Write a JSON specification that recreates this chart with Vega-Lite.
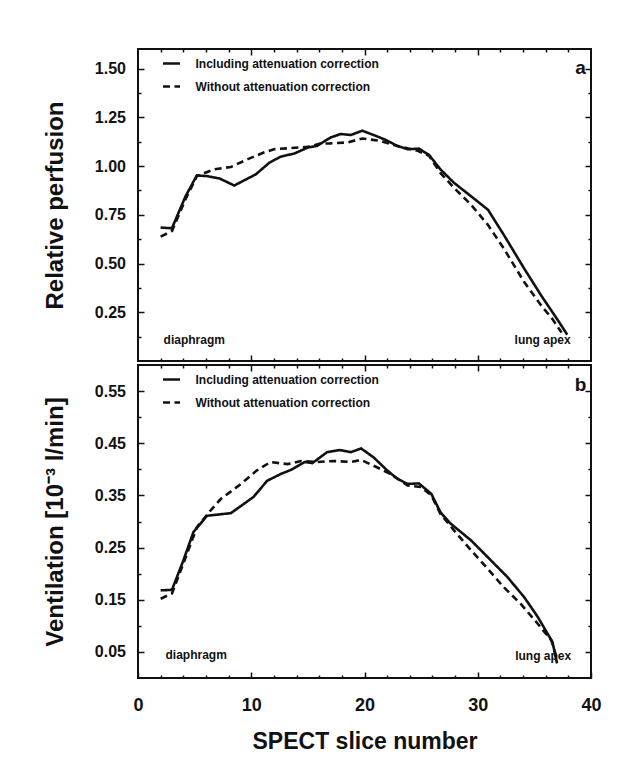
{
  "$schema": "https://vega.github.io/schema/vega-lite/v6.json",
  "background": "white",
  "padding": {"left": 42, "top": 47, "right": 10, "bottom": 5},
  "spacing": 0,
  "datasets": {
    "perf": [
      {"slice": 2, "value": 0.684, "series": "Including attenuation correction"},
      {"slice": 3, "value": 0.681, "series": "Including attenuation correction"},
      {"slice": 4.2, "value": 0.845, "series": "Including attenuation correction"},
      {"slice": 5.2, "value": 0.952, "series": "Including attenuation correction"},
      {"slice": 6.1, "value": 0.948, "series": "Including attenuation correction"},
      {"slice": 7.2, "value": 0.936, "series": "Including attenuation correction"},
      {"slice": 8.5, "value": 0.9, "series": "Including attenuation correction"},
      {"slice": 10.4, "value": 0.957, "series": "Including attenuation correction"},
      {"slice": 11.6, "value": 1.017, "series": "Including attenuation correction"},
      {"slice": 12.6, "value": 1.048, "series": "Including attenuation correction"},
      {"slice": 13.8, "value": 1.064, "series": "Including attenuation correction"},
      {"slice": 15.0, "value": 1.095, "series": "Including attenuation correction"},
      {"slice": 15.8, "value": 1.103, "series": "Including attenuation correction"},
      {"slice": 17.0, "value": 1.146, "series": "Including attenuation correction"},
      {"slice": 17.9, "value": 1.164, "series": "Including attenuation correction"},
      {"slice": 18.8, "value": 1.159, "series": "Including attenuation correction"},
      {"slice": 19.8, "value": 1.181, "series": "Including attenuation correction"},
      {"slice": 20.8, "value": 1.159, "series": "Including attenuation correction"},
      {"slice": 21.9, "value": 1.133, "series": "Including attenuation correction"},
      {"slice": 22.9, "value": 1.103, "series": "Including attenuation correction"},
      {"slice": 23.8, "value": 1.086, "series": "Including attenuation correction"},
      {"slice": 24.8, "value": 1.089, "series": "Including attenuation correction"},
      {"slice": 25.7, "value": 1.057, "series": "Including attenuation correction"},
      {"slice": 26.7, "value": 0.983, "series": "Including attenuation correction"},
      {"slice": 27.9, "value": 0.914, "series": "Including attenuation correction"},
      {"slice": 29.4, "value": 0.845, "series": "Including attenuation correction"},
      {"slice": 30.9, "value": 0.776, "series": "Including attenuation correction"},
      {"slice": 32.3, "value": 0.647, "series": "Including attenuation correction"},
      {"slice": 34.1, "value": 0.474, "series": "Including attenuation correction"},
      {"slice": 35.6, "value": 0.336, "series": "Including attenuation correction"},
      {"slice": 37.1, "value": 0.207, "series": "Including attenuation correction"},
      {"slice": 37.9, "value": 0.135, "series": "Including attenuation correction"},
      {"slice": 2, "value": 0.638, "series": "Without attenuation correction"},
      {"slice": 3, "value": 0.667, "series": "Without attenuation correction"},
      {"slice": 4.2, "value": 0.83, "series": "Without attenuation correction"},
      {"slice": 5.2, "value": 0.948, "series": "Without attenuation correction"},
      {"slice": 6.7, "value": 0.983, "series": "Without attenuation correction"},
      {"slice": 8.2, "value": 0.995, "series": "Without attenuation correction"},
      {"slice": 9.7, "value": 1.035, "series": "Without attenuation correction"},
      {"slice": 11.1, "value": 1.069, "series": "Without attenuation correction"},
      {"slice": 12.0, "value": 1.086, "series": "Without attenuation correction"},
      {"slice": 13.5, "value": 1.092, "series": "Without attenuation correction"},
      {"slice": 15.0, "value": 1.098, "series": "Without attenuation correction"},
      {"slice": 16.1, "value": 1.115, "series": "Without attenuation correction"},
      {"slice": 17.0, "value": 1.116, "series": "Without attenuation correction"},
      {"slice": 18.5, "value": 1.121, "series": "Without attenuation correction"},
      {"slice": 19.8, "value": 1.141, "series": "Without attenuation correction"},
      {"slice": 21.4, "value": 1.129, "series": "Without attenuation correction"},
      {"slice": 22.9, "value": 1.103, "series": "Without attenuation correction"},
      {"slice": 24.7, "value": 1.078, "series": "Without attenuation correction"},
      {"slice": 25.7, "value": 1.052, "series": "Without attenuation correction"},
      {"slice": 26.7, "value": 0.965, "series": "Without attenuation correction"},
      {"slice": 27.9, "value": 0.888, "series": "Without attenuation correction"},
      {"slice": 29.4, "value": 0.802, "series": "Without attenuation correction"},
      {"slice": 30.9, "value": 0.698, "series": "Without attenuation correction"},
      {"slice": 32.3, "value": 0.577, "series": "Without attenuation correction"},
      {"slice": 34.1, "value": 0.405, "series": "Without attenuation correction"},
      {"slice": 35.6, "value": 0.285, "series": "Without attenuation correction"},
      {"slice": 36.6, "value": 0.215, "series": "Without attenuation correction"},
      {"slice": 37.4, "value": 0.146, "series": "Without attenuation correction"}
    ],
    "vent": [
      {"slice": 2, "value": 0.168, "series": "Including attenuation correction"},
      {"slice": 3, "value": 0.169, "series": "Including attenuation correction"},
      {"slice": 4.0, "value": 0.225, "series": "Including attenuation correction"},
      {"slice": 4.9, "value": 0.28, "series": "Including attenuation correction"},
      {"slice": 6.1, "value": 0.311, "series": "Including attenuation correction"},
      {"slice": 8.2, "value": 0.316, "series": "Including attenuation correction"},
      {"slice": 10.2, "value": 0.347, "series": "Including attenuation correction"},
      {"slice": 11.4, "value": 0.378, "series": "Including attenuation correction"},
      {"slice": 12.6, "value": 0.391, "series": "Including attenuation correction"},
      {"slice": 13.5, "value": 0.399, "series": "Including attenuation correction"},
      {"slice": 14.7, "value": 0.414, "series": "Including attenuation correction"},
      {"slice": 15.4, "value": 0.412, "series": "Including attenuation correction"},
      {"slice": 16.7, "value": 0.433, "series": "Including attenuation correction"},
      {"slice": 17.8, "value": 0.437, "series": "Including attenuation correction"},
      {"slice": 18.8, "value": 0.433, "series": "Including attenuation correction"},
      {"slice": 19.7, "value": 0.44, "series": "Including attenuation correction"},
      {"slice": 20.8, "value": 0.423, "series": "Including attenuation correction"},
      {"slice": 22.0, "value": 0.398, "series": "Including attenuation correction"},
      {"slice": 22.9, "value": 0.382, "series": "Including attenuation correction"},
      {"slice": 23.8, "value": 0.372, "series": "Including attenuation correction"},
      {"slice": 24.8, "value": 0.373, "series": "Including attenuation correction"},
      {"slice": 25.9, "value": 0.353, "series": "Including attenuation correction"},
      {"slice": 26.7, "value": 0.318, "series": "Including attenuation correction"},
      {"slice": 27.6, "value": 0.296, "series": "Including attenuation correction"},
      {"slice": 29.4, "value": 0.264, "series": "Including attenuation correction"},
      {"slice": 31.0, "value": 0.229, "series": "Including attenuation correction"},
      {"slice": 32.6, "value": 0.194, "series": "Including attenuation correction"},
      {"slice": 34.1, "value": 0.155, "series": "Including attenuation correction"},
      {"slice": 35.3, "value": 0.117, "series": "Including attenuation correction"},
      {"slice": 36.6, "value": 0.069, "series": "Including attenuation correction"},
      {"slice": 37.0, "value": 0.028, "series": "Including attenuation correction"},
      {"slice": 2, "value": 0.152, "series": "Without attenuation correction"},
      {"slice": 3, "value": 0.162, "series": "Without attenuation correction"},
      {"slice": 4.0, "value": 0.219, "series": "Without attenuation correction"},
      {"slice": 5.2, "value": 0.289, "series": "Without attenuation correction"},
      {"slice": 6.4, "value": 0.321, "series": "Without attenuation correction"},
      {"slice": 7.3, "value": 0.343, "series": "Without attenuation correction"},
      {"slice": 9.1, "value": 0.372, "series": "Without attenuation correction"},
      {"slice": 10.5, "value": 0.398, "series": "Without attenuation correction"},
      {"slice": 11.7, "value": 0.414, "series": "Without attenuation correction"},
      {"slice": 13.2, "value": 0.41, "series": "Without attenuation correction"},
      {"slice": 14.4, "value": 0.416, "series": "Without attenuation correction"},
      {"slice": 15.8, "value": 0.414, "series": "Without attenuation correction"},
      {"slice": 17.3, "value": 0.416, "series": "Without attenuation correction"},
      {"slice": 18.8, "value": 0.414, "series": "Without attenuation correction"},
      {"slice": 19.7, "value": 0.418, "series": "Without attenuation correction"},
      {"slice": 21.1, "value": 0.404, "series": "Without attenuation correction"},
      {"slice": 22.3, "value": 0.391, "series": "Without attenuation correction"},
      {"slice": 23.8, "value": 0.369, "series": "Without attenuation correction"},
      {"slice": 25.0, "value": 0.366, "series": "Without attenuation correction"},
      {"slice": 25.9, "value": 0.35, "series": "Without attenuation correction"},
      {"slice": 26.7, "value": 0.315, "series": "Without attenuation correction"},
      {"slice": 27.9, "value": 0.283, "series": "Without attenuation correction"},
      {"slice": 29.4, "value": 0.245, "series": "Without attenuation correction"},
      {"slice": 30.9, "value": 0.209, "series": "Without attenuation correction"},
      {"slice": 32.3, "value": 0.174, "series": "Without attenuation correction"},
      {"slice": 33.8, "value": 0.142, "series": "Without attenuation correction"},
      {"slice": 35.3, "value": 0.104, "series": "Without attenuation correction"},
      {"slice": 36.5, "value": 0.072, "series": "Without attenuation correction"},
      {"slice": 37.0, "value": 0.037, "series": "Without attenuation correction"}
    ]
  },
  "resolve": {"scale": {"strokeDash": "independent"}, "legend": {"strokeDash": "independent"}},
  "config": {
    "view": {"stroke": "#111", "strokeWidth": 2},
    "axis": {"domain": false, "grid": false, "tickColor": "#111", "tickWidth": 1.5, "labelColor": "#111", "titleColor": "#111", "labelFont": "Liberation Sans", "titleFont": "Liberation Sans", "labelFontWeight": "bold", "titleFontWeight": "bold"},
    "text": {"font": "Liberation Sans", "fontWeight": "bold", "color": "#111"}
  },
  "vconcat": [
    {
      "width": 453,
      "height": 312,
      "resolve": {"axis": {"x": "independent", "y": "independent"}},
      "layer": [
        {
          "data": {"name": "perf"},
          "mark": {"type": "line", "color": "#111", "strokeWidth": 2.6},
          "encoding": {
            "x": {"field": "slice", "type": "quantitative", "scale": {"domain": [0, 40], "nice": false, "zero": false},
                  "axis": {"orient": "bottom", "values": [10, 20, 30], "labels": false, "tickSize": -6, "title": null}},
            "y": {"field": "value", "type": "quantitative", "scale": {"domain": [0, 1.6], "nice": false, "zero": false},
                  "axis": {"orient": "left", "values": [0.25, 0.5, 0.75, 1, 1.25, 1.5], "format": ".2f", "tickSize": -6, "labelPadding": 18.5, "labelFontSize": 16, "title": "Relative perfusion", "titleFontSize": 24, "titlePadding": 27}},
            "strokeDash": {"field": "series", "type": "nominal",
                  "scale": {"domain": ["Including attenuation correction", "Without attenuation correction"], "range": [[1, 0], [7, 4.5]]},
                  "legend": {"orient": "none", "legendX": 23.5, "legendY": 4.5, "title": null, "symbolType": "stroke", "symbolSize": 289, "symbolStrokeWidth": 2.6, "symbolStrokeColor": "#111", "labelFont": "Liberation Sans", "labelFontSize": 12, "labelFontWeight": "bold", "labelColor": "#111", "labelOffset": 14, "rowPadding": 7, "padding": 0, "labelLimit": 0}}
          }
        },
        {
          "data": {"values": [{"slice": 2.26, "value": 0.11, "label": "diaphragm"}]},
          "mark": {"type": "text", "align": "left", "baseline": "middle", "fontSize": 12},
          "encoding": {
            "x": {"field": "slice", "type": "quantitative", "scale": {"domain": [0, 40], "nice": false, "zero": false},
                  "axis": {"orient": "bottom", "values": [2, 4, 6, 8, 12, 14, 16, 18, 22, 24, 26, 28, 32, 34, 36, 38], "labels": false, "tickSize": -3, "title": null}},
            "y": {"field": "value", "type": "quantitative", "scale": {"domain": [0, 1.6], "nice": false, "zero": false},
                  "axis": {"orient": "left", "values": [0.125, 0.375, 0.625, 0.875, 1.125, 1.375], "labels": false, "tickSize": -3, "title": null}},
            "text": {"field": "label"}
          }
        },
        {
          "data": {"values": [{"slice": 38.2, "value": 0.11, "label": "lung apex"}]},
          "mark": {"type": "text", "align": "right", "baseline": "middle", "fontSize": 12},
          "encoding": {
            "x": {"field": "slice", "type": "quantitative", "scale": {"domain": [0, 40], "nice": false, "zero": false},
                  "axis": {"orient": "top", "values": [10, 20, 30], "labels": false, "tickSize": -6, "title": null}},
            "y": {"field": "value", "type": "quantitative", "scale": {"domain": [0, 1.6], "nice": false, "zero": false},
                  "axis": {"orient": "right", "values": [0.25, 0.5, 0.75, 1, 1.25, 1.5], "labels": false, "tickSize": -6, "title": null}},
            "text": {"field": "label"}
          }
        },
        {
          "data": {"values": [{"slice": 39.07, "value": 1.504, "label": "a"}]},
          "mark": {"type": "text", "align": "center", "baseline": "middle", "fontSize": 19},
          "encoding": {
            "x": {"field": "slice", "type": "quantitative", "scale": {"domain": [0, 40], "nice": false, "zero": false},
                  "axis": {"orient": "top", "values": [2, 4, 6, 8, 12, 14, 16, 18, 22, 24, 26, 28, 32, 34, 36, 38], "labels": false, "tickSize": -3, "title": null}},
            "y": {"field": "value", "type": "quantitative", "scale": {"domain": [0, 1.6], "nice": false, "zero": false},
                  "axis": {"orient": "right", "values": [0.125, 0.375, 0.625, 0.875, 1.125, 1.375], "labels": false, "tickSize": -3, "title": null}},
            "text": {"field": "label"}
          }
        }
      ]
    },
    {
      "width": 453,
      "height": 313,
      "resolve": {"axis": {"x": "independent", "y": "independent"}},
      "layer": [
        {
          "data": {"name": "vent"},
          "mark": {"type": "line", "color": "#111", "strokeWidth": 2.6},
          "encoding": {
            "x": {"field": "slice", "type": "quantitative", "scale": {"domain": [0, 40], "nice": false, "zero": false},
                  "axis": {"orient": "bottom", "values": [0, 10, 20, 30, 40], "format": "d", "labelFontSize": 18, "labelPadding": 24, "tickSize": -6, "labelFlush": false, "title": "SPECT slice number", "titleFontSize": 23, "titlePadding": 16}},
            "y": {"field": "value", "type": "quantitative", "scale": {"domain": [0, 0.6], "nice": false, "zero": false},
                  "axis": {"orient": "left", "values": [0.05, 0.15, 0.25, 0.35, 0.45, 0.55], "format": ".2f", "tickSize": -6, "labelPadding": 18.5, "labelFontSize": 16, "title": "Ventilation [10⁻³ l/min]", "titleFontSize": 24, "titlePadding": 27}},
            "strokeDash": {"field": "series", "type": "nominal",
                  "scale": {"domain": ["Including attenuation correction", "Without attenuation correction"], "range": [[1, 0], [7, 4.5]]},
                  "legend": {"orient": "none", "legendX": 23.5, "legendY": 4.5, "title": null, "symbolType": "stroke", "symbolSize": 289, "symbolStrokeWidth": 2.6, "symbolStrokeColor": "#111", "labelFont": "Liberation Sans", "labelFontSize": 12, "labelFontWeight": "bold", "labelColor": "#111", "labelOffset": 14, "rowPadding": 7, "padding": 0, "labelLimit": 0}}
          }
        },
        {
          "data": {"values": [{"slice": 2.43, "value": 0.0435, "label": "diaphragm"}]},
          "mark": {"type": "text", "align": "left", "baseline": "middle", "fontSize": 12},
          "encoding": {
            "x": {"field": "slice", "type": "quantitative", "scale": {"domain": [0, 40], "nice": false, "zero": false},
                  "axis": {"orient": "bottom", "values": [2, 4, 6, 8, 12, 14, 16, 18, 22, 24, 26, 28, 32, 34, 36, 38], "labels": false, "tickSize": -3, "title": null}},
            "y": {"field": "value", "type": "quantitative", "scale": {"domain": [0, 0.6], "nice": false, "zero": false},
                  "axis": {"orient": "left", "values": [0.1, 0.2, 0.3, 0.4, 0.5], "labels": false, "tickSize": -3, "title": null}},
            "text": {"field": "label"}
          }
        },
        {
          "data": {"values": [{"slice": 38.25, "value": 0.043, "label": "lung apex"}]},
          "mark": {"type": "text", "align": "right", "baseline": "middle", "fontSize": 12},
          "encoding": {
            "x": {"field": "slice", "type": "quantitative", "scale": {"domain": [0, 40], "nice": false, "zero": false},
                  "axis": {"orient": "top", "values": [10, 20, 30], "labels": false, "tickSize": -6, "title": null}},
            "y": {"field": "value", "type": "quantitative", "scale": {"domain": [0, 0.6], "nice": false, "zero": false},
                  "axis": {"orient": "right", "values": [0.05, 0.15, 0.25, 0.35, 0.45, 0.55], "labels": false, "tickSize": -6, "title": null}},
            "text": {"field": "label"}
          }
        },
        {
          "data": {"values": [{"slice": 39.07, "value": 0.562, "label": "b"}]},
          "mark": {"type": "text", "align": "center", "baseline": "middle", "fontSize": 19},
          "encoding": {
            "x": {"field": "slice", "type": "quantitative", "scale": {"domain": [0, 40], "nice": false, "zero": false},
                  "axis": {"orient": "top", "values": [2, 4, 6, 8, 12, 14, 16, 18, 22, 24, 26, 28, 32, 34, 36, 38], "labels": false, "tickSize": -3, "title": null}},
            "y": {"field": "value", "type": "quantitative", "scale": {"domain": [0, 0.6], "nice": false, "zero": false},
                  "axis": {"orient": "right", "values": [0.1, 0.2, 0.3, 0.4, 0.5], "labels": false, "tickSize": -3, "title": null}},
            "text": {"field": "label"}
          }
        }
      ]
    }
  ]
}
